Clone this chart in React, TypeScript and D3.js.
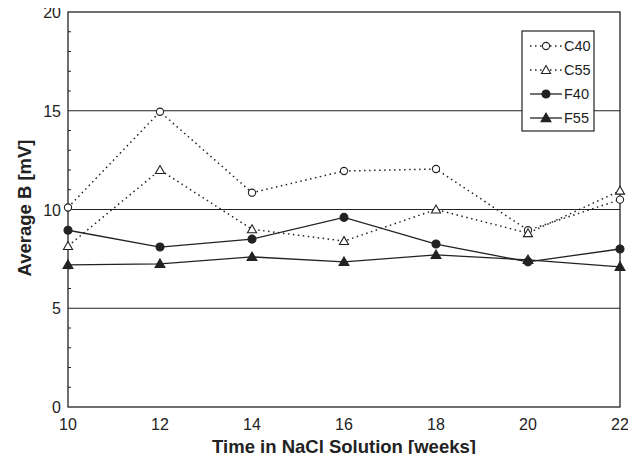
import React, { useEffect, useRef } from "react";
import * as d3 from "d3";

const weeks = [10, 12, 14, 16, 18, 20, 22];
const c40 = [10.1, 14.95, 10.85, 11.95, 12.05, 8.95, 10.5];
const c55 = [8.15, 12.0, 9.0, 8.4, 10.0, 8.8, 10.95];
const f40 = [8.95, 8.1, 8.5, 9.6, 8.25, 7.35, 8.0];
const f55 = [7.2, 7.25, 7.6, 7.35, 7.7, 7.45, 7.1];

const seriesNames = ["C40", "C55", "F40", "F55"];
const seriesValues = [c40, c55, f40, f55];
const seriesDotted = [true, true, false, false];
const seriesShape = ["circle", "triangle", "circle", "triangle"];
const seriesFilled = [false, false, true, true];

const yTicks = [0, 5, 10, 15, 20];
const gridValues = [5, 10, 15];

const W = 636;
const H = 462;
const margin = { left: 68, right: 16, top: 12, bottom: 55 };
const FONT = "'Liberation Sans', Arial, Helvetica, sans-serif";
const INK = "#222";

const drawMarker = (g, shape, filled, x, y) => {
  if (shape === "circle") {
    g.append("circle")
      .attr("cx", x)
      .attr("cy", y)
      .attr("r", filled ? 4 : 3.6)
      .attr("fill", filled ? INK : "white")
      .attr("stroke", INK)
      .attr("stroke-width", 1.1);
  } else {
    const tri = d3.symbol().type(d3.symbolTriangle).size(filled ? 42 : 36);
    g.append("path")
      .attr("d", tri())
      .attr("transform", `translate(${x},${y + 0.8})`)
      .attr("fill", filled ? INK : "white")
      .attr("stroke", INK)
      .attr("stroke-width", 1.1);
  }
};

const App = () => {
  const ref = useRef(null);

  useEffect(() => {
    const svg = d3.select(ref.current);
    svg.selectAll("*").remove();

    const x = d3.scaleLinear().domain([10, 22]).range([margin.left, W - margin.right]);
    const y = d3.scaleLinear().domain([0, 20]).range([H - margin.bottom, margin.top]);

    // gridlines
    gridValues.forEach(v => {
      svg.append("line")
        .attr("x1", x(10)).attr("x2", x(22))
        .attr("y1", y(v)).attr("y2", y(v))
        .attr("stroke", INK).attr("stroke-width", 1);
    });

    // frame
    svg.append("rect")
      .attr("x", x(10)).attr("y", y(20))
      .attr("width", x(22) - x(10)).attr("height", y(0) - y(20))
      .attr("fill", "none").attr("stroke", INK).attr("stroke-width", 1.3);

    // minor y ticks
    d3.range(1, 20).forEach(v => {
      if (v % 5 === 0) return;
      svg.append("line")
        .attr("x1", x(10)).attr("x2", x(10) + 3)
        .attr("y1", y(v)).attr("y2", y(v))
        .attr("stroke", INK).attr("stroke-width", 1);
    });

    // y labels
    yTicks.forEach(v => {
      svg.append("text")
        .attr("x", x(10) - 7)
        .attr("y", y(v) + 6)
        .attr("text-anchor", "end")
        .attr("font-family", FONT)
        .attr("font-size", 16)
        .attr("fill", INK)
        .text(v);
    });

    // x labels
    weeks.forEach(w => {
      svg.append("text")
        .attr("x", x(w))
        .attr("y", y(0) + 23)
        .attr("text-anchor", "middle")
        .attr("font-family", FONT)
        .attr("font-size", 16)
        .attr("fill", INK)
        .text(w);
    });

    // axis titles
    svg.append("text")
      .attr("x", (x(10) + x(22)) / 2)
      .attr("y", 453)
      .attr("text-anchor", "middle")
      .attr("font-family", FONT)
      .attr("font-size", 18.5)
      .attr("font-weight", "bold")
      .attr("fill", INK)
      .text("Time in NaCl Solution [weeks]");

    svg.append("text")
      .attr("transform", "translate(31,208) rotate(-90)")
      .attr("text-anchor", "middle")
      .attr("font-family", FONT)
      .attr("font-size", 18.5)
      .attr("font-weight", "bold")
      .attr("fill", INK)
      .text("Average B [mV]");

    // series
    const line = d3.line().x(d => x(d[0])).y(d => y(d[1]));
    seriesValues.forEach((vals, i) => {
      const pts = weeks.map((w, j) => [w, vals[j]]);
      svg.append("path")
        .attr("d", line(pts))
        .attr("fill", "none")
        .attr("stroke", INK)
        .attr("stroke-width", seriesDotted[i] ? 1.5 : 1.3)
        .attr("stroke-dasharray", seriesDotted[i] ? "1.5,3.5" : null);
    });
    seriesValues.forEach((vals, i) => {
      weeks.forEach((w, j) => drawMarker(svg, seriesShape[i], seriesFilled[i], x(w), y(vals[j])));
    });

    // legend
    const lg = svg.append("g").attr("transform", "translate(522,31)");
    lg.append("rect")
      .attr("width", 72).attr("height", 100)
      .attr("fill", "white").attr("stroke", INK).attr("stroke-width", 1.2);
    seriesNames.forEach((name, i) => {
      const ly = 15 + i * 24;
      lg.append("line")
        .attr("x1", 8).attr("x2", 40)
        .attr("y1", ly).attr("y2", ly)
        .attr("stroke", INK)
        .attr("stroke-width", seriesDotted[i] ? 1.5 : 1.3)
        .attr("stroke-dasharray", seriesDotted[i] ? "1.5,3.5" : null);
      drawMarker(lg, seriesShape[i], seriesFilled[i], 24, ly);
      lg.append("text")
        .attr("x", 42)
        .attr("y", ly + 5)
        .attr("font-family", FONT)
        .attr("font-size", 14.5)
        .attr("fill", INK)
        .text(name);
    });
  }, []);

  return <svg ref={ref} width={W} height={H} style={{ display: "block", margin: "-8px" }} />;
};

export default App;
